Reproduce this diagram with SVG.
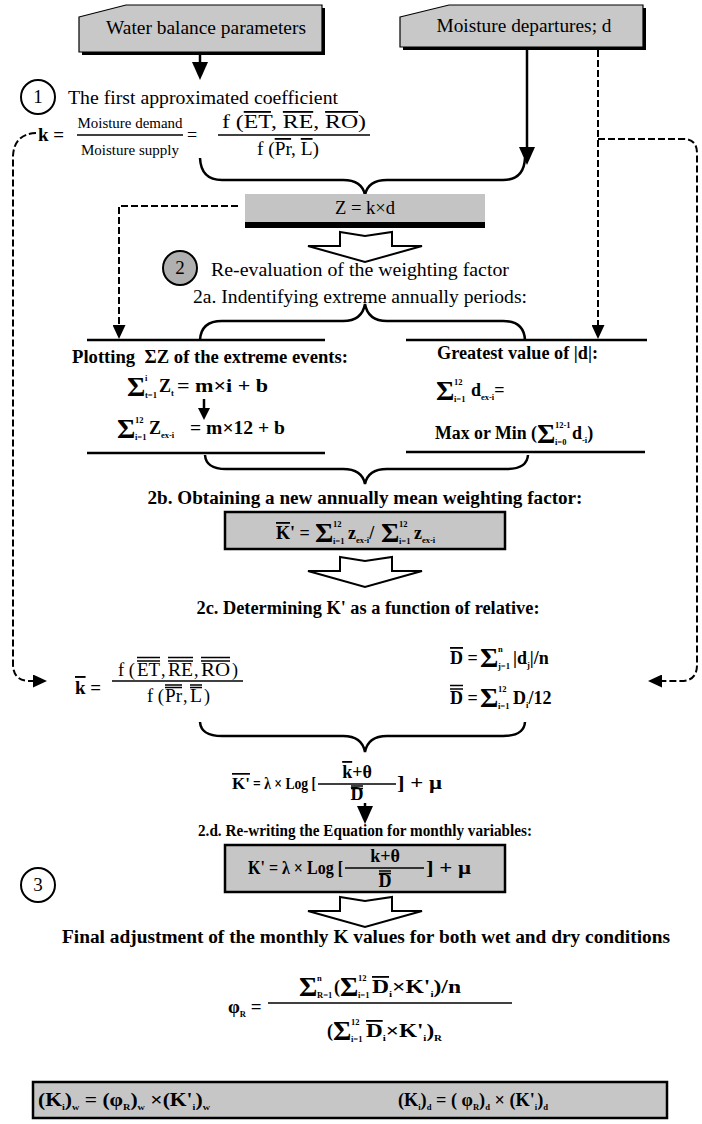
<svg xmlns="http://www.w3.org/2000/svg" width="702" height="1124" viewBox="0 0 702 1124">
<defs>
<style>
text{font-family:"Liberation Serif","Times New Roman",serif;fill:#000}
.r{font-size:19px}
.b{font-size:18px;font-weight:bold}
.f{font-size:18px}
.fm{font-size:15.5px}
.fb{font-size:18px;font-weight:bold}
.s{font-size:8.5px;font-weight:bold}
.sg{font-size:28px;font-weight:bold}
.ol{text-decoration:overline}
.gray{fill:#c4c4c4}
.bx{fill:#c6c6c6;stroke:#000;stroke-width:2.5}
.ln{fill:none;stroke:#000;stroke-width:2.5}
.th{fill:none;stroke:#000;stroke-width:1.6}
.ov{fill:none;stroke:#000;stroke-width:1.4}
.ds{fill:none;stroke:#000;stroke-width:2;stroke-dasharray:7 3}
.ba{fill:#fff;stroke:#000;stroke-width:2}
.circ{fill:#fff;stroke:#000;stroke-width:2}
</style>
<marker id="ah" viewBox="0 0 10 10" refX="0" refY="5" markerUnits="userSpaceOnUse" markerWidth="18" markerHeight="16" orient="auto" preserveAspectRatio="none"><path d="M0,0L10,5L0,10z" fill="#000"/></marker>
<marker id="ahd" viewBox="0 0 10 10" refX="0" refY="5" markerUnits="userSpaceOnUse" markerWidth="14" markerHeight="13" orient="auto" preserveAspectRatio="none"><path d="M0,0L10,5L0,10z" fill="#000"/></marker>
<marker id="ahs" viewBox="0 0 10 10" refX="0" refY="5" markerUnits="userSpaceOnUse" markerWidth="12" markerHeight="12" orient="auto" preserveAspectRatio="none"><path d="M0,0L10,5L0,10z" fill="#000"/></marker>
</defs>
<rect width="702" height="1124" fill="#fff"/>

<g id="connectors">
<path class="ln" d="M200,55V62" marker-end="url(#ah)"/>
<path class="ln" d="M527,50V147" marker-end="url(#ah)"/>
<path class="ds" d="M598,50V325" marker-end="url(#ahd)"/>
<path class="ds" d="M598,139H683Q697,139 697,153V665Q697,681 681,681H662" marker-end="url(#ahd)"/>
<path class="ds" d="M36,133Q14,134 13,156V664Q13,681 30,681H33" marker-end="url(#ahd)"/>
<path class="ds" d="M238,206H119V325" marker-end="url(#ahd)"/>
<path class="ln" d="M204,399V408" marker-end="url(#ahs)"/>
<path class="ln" d="M365,803V806" marker-end="url(#ah)"/>
<path class="ln" d="M200,158Q201,180 222,180H343Q362,180 365,195Q368,180 387,180H503Q524,180 525,158"/>
<path class="ln" d="M200,340Q201,321 222,321H343Q362,321 365,304Q368,321 387,321H503Q524,321 525,340"/>
<path class="ln" d="M205,455Q206,469 226,469H343Q362,469 365,484Q368,469 387,469H507Q527,469 528,455"/>
<path class="ln" d="M200,722Q201,736 222,736H343Q362,736 365,752Q368,736 387,736H503Q524,736 525,722"/>
<polygon class="ba" points="340,232 365,236 392,232 392,246 422,246 365,262 308,246 340,246"/>
<polygon class="ba" points="340,557 365,561 392,557 392,571 422,571 365,587 308,571 340,571"/>
<polygon class="ba" points="340,897 365,901 392,897 392,911 422,911 365,927 308,911 340,911"/>
</g>

<g id="water-balance">
<polygon points="82,20 129,8 325,8 325,55 82,55" fill="#000"/>
<polygon points="79,17 126,5 322,5 322,52 79,52" fill="#c8c8c8" stroke="#000" stroke-width="1.2"/>
<text class="r" x="206" y="34" text-anchor="middle" textLength="200" lengthAdjust="spacingAndGlyphs">Water balance parameters</text>
</g>

<g id="moisture-departures">
<polygon points="403,20 452,8 646,8 646,50 403,50" fill="#000"/>
<polygon points="400,17 449,5 643,5 643,47 400,47" fill="#c8c8c8" stroke="#000" stroke-width="1.2"/>
<text class="r" x="524" y="32" text-anchor="middle" textLength="175" lengthAdjust="spacingAndGlyphs">Moisture departures; d</text>
</g>

<g id="step1">
<circle class="circ" cx="38" cy="97" r="17"/>
<text class="r" x="38" y="103" text-anchor="middle">1</text>
<text class="r" x="68" y="104" textLength="270" lengthAdjust="spacingAndGlyphs">The first approximated coefficient</text>
</g>

<g id="k-formula">
<text class="fb" x="38" y="141" style="font-size:19px">k =</text>
<text class="fm" x="130" y="128" text-anchor="middle" textLength="105" lengthAdjust="spacingAndGlyphs">Moisture demand</text>
<path class="th" d="M77,135H183"/>
<text class="fm" x="130" y="155" text-anchor="middle" textLength="98" lengthAdjust="spacingAndGlyphs">Moisture supply</text>
<text class="f" x="187" y="141">=</text>
<text class="f" x="294" y="128" text-anchor="middle" textLength="144" lengthAdjust="spacingAndGlyphs">f (<tspan class="ol">ET</tspan>, <tspan class="ol">RE</tspan>, <tspan class="ol">RO</tspan>)</text>
<path class="th" d="M218,135H370"/>
<text class="f" x="288" y="155" text-anchor="middle" textLength="62" lengthAdjust="spacingAndGlyphs">f (<tspan class="ol">Pr</tspan>, <tspan class="ol">L</tspan>)</text>
</g>

<g id="z-box">
<rect class="gray" x="245" y="194" width="240" height="28"/>
<rect x="245" y="222" width="240" height="6" fill="#000"/>
<text class="f" x="365" y="214" text-anchor="middle" textLength="60" lengthAdjust="spacingAndGlyphs">Z = k×d</text>
</g>

<g id="step2">
<circle cx="180" cy="268" r="17" fill="#b0b0b0" stroke="#000" stroke-width="2"/>
<text class="r" x="180" y="274" text-anchor="middle">2</text>
<text class="r" x="211" y="276" textLength="298" lengthAdjust="spacingAndGlyphs">Re-evaluation of the weighting factor</text>
<text class="r" x="360" y="303" text-anchor="middle" textLength="334" lengthAdjust="spacingAndGlyphs">2a. Indentifying extreme annually periods:</text>
</g>

<g id="extreme-events">
<path class="ln" d="M87,340H325M87,453H325"/>
<text class="b" x="72" y="363" textLength="276" lengthAdjust="spacingAndGlyphs">Plotting &#160;ΣZ of the extreme events:</text>
<text class="sg" x="127" y="396">Σ</text>
<text class="s" x="145" y="381">i</text>
<text class="s" x="145" y="398">t=1</text>
<text class="fb" x="159" y="392">Z<tspan class="s" dy="4">t</tspan></text>
<text class="fb" x="177" y="392" textLength="91" lengthAdjust="spacingAndGlyphs">= m×i + b</text>
<text class="sg" x="117" y="438">Σ</text>
<text class="s" x="135" y="423">12</text>
<text class="s" x="135" y="440">i=1</text>
<text class="fb" x="149" y="434">Z<tspan class="s" dy="4">ex-i</tspan></text>
<text class="fb" x="190" y="434" textLength="95" lengthAdjust="spacingAndGlyphs">= m×12 + b</text>
</g>

<g id="greatest-d">
<path class="ln" d="M406,340H647M406,452H645"/>
<text class="b" x="437" y="359" textLength="161" lengthAdjust="spacingAndGlyphs">Greatest value of |d|:</text>
<text class="sg" x="436" y="400">Σ</text>
<text class="s" x="454" y="385">12</text>
<text class="s" x="454" y="402">i=1</text>
<text class="fb" x="471" y="396">d<tspan class="s" dy="4">ex-i</tspan><tspan dy="-4">=</tspan></text>
<text class="fb" x="435" y="439" textLength="102" lengthAdjust="spacingAndGlyphs">Max or Min (</text>
<text class="sg" x="537" y="443">Σ</text>
<text class="s" x="555" y="428">12-1</text>
<text class="s" x="555" y="445">i=0</text>
<text class="fb" x="572" y="439">d<tspan class="s" dy="4">-i</tspan><tspan dy="-4">)</tspan></text>
</g>

<g id="step2b">
<text class="b" x="365" y="504" text-anchor="middle" textLength="435" lengthAdjust="spacingAndGlyphs">2b. Obtaining a new annually mean weighting factor:</text>
<rect class="bx" x="225" y="512" width="280" height="37"/>
<text class="fb" x="276" y="539"><tspan class="ol">K</tspan>' =</text>
<text class="sg" x="315" y="542">Σ</text>
<text class="s" x="333" y="527">12</text>
<text class="s" x="333" y="544">i=1</text>
<text class="fb" x="348" y="539">z<tspan class="s" dy="4">ex-i</tspan><tspan dy="-4">/</tspan></text>
<text class="sg" x="381" y="542">Σ</text>
<text class="s" x="399" y="527">12</text>
<text class="s" x="399" y="544">i=1</text>
<text class="fb" x="414" y="539">z<tspan class="s" dy="4">ex-i</tspan></text>
</g>

<g id="step2c">
<text class="b" x="368" y="614" text-anchor="middle" textLength="343" lengthAdjust="spacingAndGlyphs">2c. Determining K' as a function of relative:</text>
<text class="fb" x="75" y="694" style="font-size:19px"><tspan class="ol">k</tspan> =</text>
<text class="f" x="118" y="676" textLength="17" lengthAdjust="spacingAndGlyphs">f (</text>
<text class="f" x="137" y="676" textLength="23" lengthAdjust="spacingAndGlyphs">ET</text>
<text class="f" x="161" y="676">,</text>
<text class="f" x="168" y="676" textLength="25" lengthAdjust="spacingAndGlyphs">RE</text>
<text class="f" x="194" y="676">,</text>
<text class="f" x="201" y="676" textLength="29" lengthAdjust="spacingAndGlyphs">RO</text>
<text class="f" x="232" y="676">)</text>
<path class="ov" d="M137,661H160M137,657.5H160M168,661H193M168,657.5H193M201,661H230M201,657.5H230"/>
<path class="th" d="M112,681H243"/>
<text class="f" x="147" y="702" textLength="17" lengthAdjust="spacingAndGlyphs">f (</text>
<text class="f" x="165" y="702" textLength="17" lengthAdjust="spacingAndGlyphs">Pr</text>
<text class="f" x="183" y="702">,</text>
<text class="f" x="190" y="702" textLength="12" lengthAdjust="spacingAndGlyphs">L</text>
<text class="f" x="204" y="702">)</text>
<path class="ov" d="M165,687.5H182M165,685H182M190,687.5H202M190,685H202"/>
<text class="fb" x="450" y="664"><tspan class="ol">D</tspan> =</text>
<text class="sg" x="480" y="667">Σ</text>
<text class="s" x="498" y="652">n</text>
<text class="s" x="498" y="669">j=1</text>
<text class="fb" x="513" y="664">|d<tspan class="s" dy="4">j</tspan><tspan dy="-4">|/n</tspan></text>
<text class="fb" x="450" y="704">D =</text>
<path class="ov" d="M450,689H463M450,685.5H463"/>
<text class="sg" x="480" y="707">Σ</text>
<text class="s" x="498" y="692">12</text>
<text class="s" x="498" y="709">i=1</text>
<text class="fb" x="513" y="704">D<tspan class="s" dy="4">i</tspan><tspan dy="-4">/12</tspan></text>
</g>

<g id="k-prime-mean">
<text class="fb ol" x="232" y="789" style="font-size:17px">K'</text>
<text class="fb" x="253" y="789" textLength="63" lengthAdjust="spacingAndGlyphs" style="font-size:16px">= λ × Log [</text>
<path class="th" d="M318,784H396"/>
<text class="fb" x="357" y="778" text-anchor="middle"><tspan class="ol">k</tspan>+θ</text>
<text class="fb" x="357" y="800" text-anchor="middle">D</text>
<path class="ov" d="M351,786H363M351,788.5H363"/>
<text class="fb" x="397" y="789" textLength="45" lengthAdjust="spacingAndGlyphs">] + μ</text>
</g>

<g id="step2d">
<text class="b" x="365" y="836" text-anchor="middle" textLength="334" lengthAdjust="spacingAndGlyphs" style="font-size:17px">2.d. Re-writing the Equation for monthly variables:</text>
<rect class="bx" x="225" y="845" width="280" height="47"/>
<text class="fb" x="248" y="874" textLength="95" lengthAdjust="spacingAndGlyphs">K' = λ × Log [</text>
<path class="th" d="M345,868H424"/>
<text class="fb" x="385" y="862" text-anchor="middle">k+θ</text>
<text class="fb" x="385" y="887" text-anchor="middle">D</text>
<path class="ov" d="M379,873.5H391M379,871H391"/>
<text class="fb" x="426" y="874" textLength="45" lengthAdjust="spacingAndGlyphs">] + μ</text>
</g>

<g id="step3">
<circle class="circ" cx="38" cy="885" r="17"/>
<text class="r" x="38" y="891" text-anchor="middle">3</text>
<text class="b" x="366" y="943" text-anchor="middle" textLength="608" lengthAdjust="spacingAndGlyphs">Final adjustment of the monthly K values for both wet and dry conditions</text>
</g>

<g id="phi-formula">
<text class="fb" x="228" y="1013" style="font-size:19px">φ<tspan class="s" dy="4">R</tspan><tspan dy="-4"> =</tspan></text>
<path class="th" d="M268,1003H512"/>
<text class="sg" x="299" y="996">Σ</text>
<text class="s" x="317" y="981">n</text>
<text class="s" x="317" y="998">R=1</text>
<text class="fb" x="334" y="993">(</text>
<text class="sg" x="340" y="996">Σ</text>
<text class="s" x="358" y="981">12</text>
<text class="s" x="358" y="998">i=1</text>
<text class="fb" x="372" y="993" textLength="89" lengthAdjust="spacingAndGlyphs"><tspan class="ol">D</tspan><tspan class="s" dy="4">i</tspan><tspan dy="-4">×K'</tspan><tspan class="s" dy="4">i</tspan><tspan dy="-4">)/n</tspan></text>
<text class="fb" x="327" y="1037">(</text>
<text class="sg" x="333" y="1040">Σ</text>
<text class="s" x="351" y="1025">12</text>
<text class="s" x="351" y="1042">i=1</text>
<text class="fb" x="366" y="1037" textLength="76" lengthAdjust="spacingAndGlyphs"><tspan class="ol">D</tspan><tspan class="s" dy="4">i</tspan><tspan dy="-4">×K'</tspan><tspan class="s" dy="4">i</tspan><tspan dy="-4">)</tspan><tspan class="s" dy="4">R</tspan></text>
</g>

<g id="final-box">
<rect class="bx" x="33" y="1082" width="634" height="36"/>
<text class="fb" x="38" y="1106" textLength="172" lengthAdjust="spacingAndGlyphs">(K<tspan class="s" dy="4">i</tspan><tspan dy="-4">)</tspan><tspan class="s" dy="4">w</tspan><tspan dy="-4"> = (φ</tspan><tspan class="s" dy="4">R</tspan><tspan dy="-4">)</tspan><tspan class="s" dy="4">w</tspan><tspan dy="-4"> ×(K'</tspan><tspan class="s" dy="4">i</tspan><tspan dy="-4">)</tspan><tspan class="s" dy="4">w</tspan></text>
<text class="fb" x="398" y="1106" textLength="150" lengthAdjust="spacingAndGlyphs">(K<tspan class="s" dy="4">i</tspan><tspan dy="-4">)</tspan><tspan class="s" dy="4">d</tspan><tspan dy="-4"> = ( φ</tspan><tspan class="s" dy="4">R</tspan><tspan dy="-4">)</tspan><tspan class="s" dy="4">d</tspan><tspan dy="-4"> × (K'</tspan><tspan class="s" dy="4">i</tspan><tspan dy="-4">)</tspan><tspan class="s" dy="4">d</tspan></text>
</g>
</svg>
